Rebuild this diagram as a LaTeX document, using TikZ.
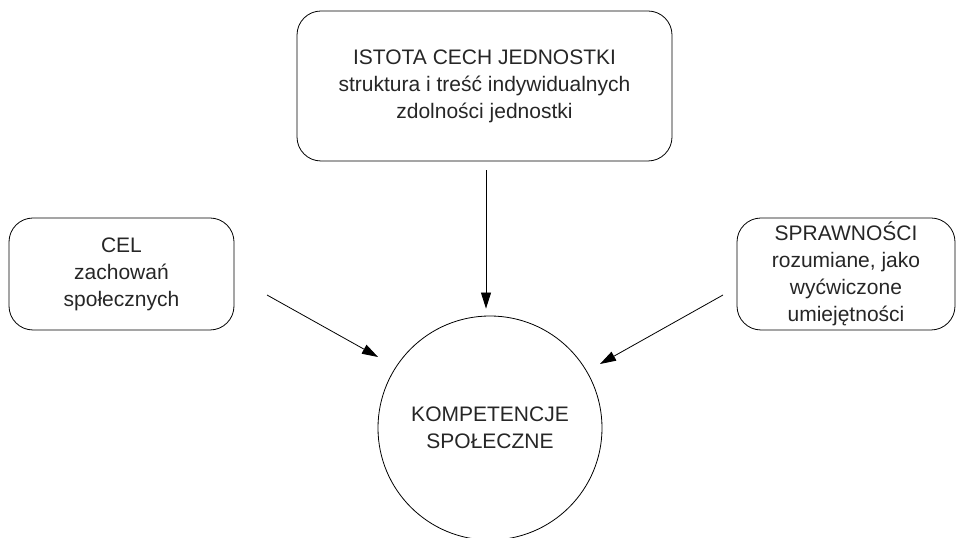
\documentclass[tikz,border=0pt]{standalone}
\usepackage{fontspec}
\setmainfont{Liberation Sans}
\usetikzlibrary{arrows.meta}

\begin{document}
\begin{tikzpicture}[x=1pt, y=1pt, line width=0.8pt,
		box/.style={draw, rounded corners=24pt, align=center, inner sep=0pt,
			font=\fontsize{21}{27}\selectfont, text=black!85},
		arr/.style={-{Triangle[length=16pt, width=10pt]}}]
		\useasboundingbox (0,0) rectangle (956,538);
		\node (ist) [box, minimum width=375pt, minimum height=150pt] at (484.5,452)
			{ISTOTA CECH JEDNOSTKI\\struktura i treść indywidualnych\\zdolności jednostki};
		\node (cel) [box, minimum width=225pt, minimum height=112pt] at (121.5,264)
			{CEL\\zachowań\\społecznych};
		\node (spr) [box, minimum width=218pt, minimum height=112pt] at (846,264)
			{SPRAWNOŚCI\\rozumiane, jako\\wyćwiczone\\umiejętności};
		\node (kom) [box, shape=circle, rounded corners=0pt, minimum size=224pt] at (490,110)
			{KOMPETENCJE\\SPOŁECZNE};
		\coordinate (cel-out) at (267,243);
		\coordinate (cel-in)  at (378,181);
		\coordinate (spr-out) at (723,243);
		\coordinate (spr-in)  at (600,174);
		\draw[arr, shorten <=9pt, shorten >=7pt]  ([xshift=1.5pt]ist.south) -- ([xshift=1.5pt]ist.south |- kom.north);
		\draw[arr]  (cel-out) -- (cel-in);
		\draw[arr]  (spr-out) -- (spr-in);
\end{tikzpicture}
\end{document}
